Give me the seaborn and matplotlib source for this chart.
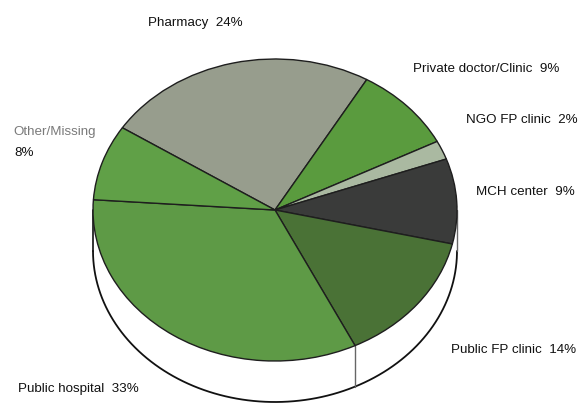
import numpy as np
import matplotlib
matplotlib.use("Agg")
import matplotlib.pyplot as plt
import seaborn as sns

# ---- data ----
categories = ["Pharmacy", "Private doctor/Clinic", "NGO FP clinic", "MCH center",
              "Public FP clinic", "Public hospital", "Other/Missing"]
values = [24, 9, 2, 9, 14, 33, 8]
colors = ["#979d8d", "#5a9b3e", "#aab9a1", "#3a3b3a", "#4a7236", "#5e9a46", "#60a047"]

# ---- style ----
sns.set_theme(style="white")
plt.rcParams["font.family"] = ["Liberation Sans", "DejaVu Sans"]

W, H = 587, 404
fig = plt.figure(figsize=(W / 100, H / 100), dpi=100)
ax = fig.add_axes([0, 0, 1, 1])

# ellipse geometry in pixels (center, semi-axes) -> data units
cx, cy, a, b = 275, 210, 182, 151
wall_h = 41 / b
start = 147

wedges, _ = ax.pie(values, colors=colors, startangle=start, counterclock=False,
                   wedgeprops=dict(edgecolor="#1e1e1e", linewidth=1.0), radius=1.0)
for w in wedges:
    w.set_zorder(3)

# side wall (front half of the cylinder)
th = np.linspace(np.pi, 2 * np.pi, 200)
xs = np.cos(th)
ys = np.sin(th)
poly_x = np.concatenate([xs, xs[::-1]])
poly_y = np.concatenate([ys, ys[::-1] - wall_h])
ax.fill(poly_x, poly_y, color="white", zorder=1)
ax.plot(xs, ys - wall_h, color="#111111", lw=1.3, zorder=2)
ax.plot([-1, -1], [0, -wall_h], color="#111111", lw=1.2, zorder=2)
ax.plot([1, 1], [0, -wall_h], color="#666666", lw=1.0, zorder=2)

# vertical seam at the Public FP / Public hospital boundary
tot = sum(values)
ang = start - 360 * sum(values[:5]) / tot
r = np.deg2rad(ang)
ax.plot([np.cos(r), np.cos(r)], [np.sin(r), np.sin(r) - wall_h],
        color="#666666", lw=1.0, zorder=2)

ax.set_aspect("auto")
ax.set_xlim(-cx / a, (W - cx) / a)
ax.set_ylim((cy - H) / b, cy / b)
ax.axis("off")

# ---- labels (figure pixel positions: left x, center y) ----
label_pos = [(148, 23), (413, 69), (466, 120), (476, 192), (451, 350), (18, 389)]
for cat, val, (px, py) in zip(categories[:6], values[:6], label_pos):
    fig.text(px / W, 1 - py / H, f"{cat}  {val}%", ha="left", va="center",
             fontsize=9.6, color="#111111")
fig.text(13 / W, 1 - 132 / H, categories[6], ha="left", va="center",
         fontsize=9.6, color="#7a7a7a")
fig.text(14 / W, 1 - 153 / H, f"{values[6]}%", ha="left", va="center",
         fontsize=9.6, color="#111111")

fig.savefig("out.png", dpi=100)
